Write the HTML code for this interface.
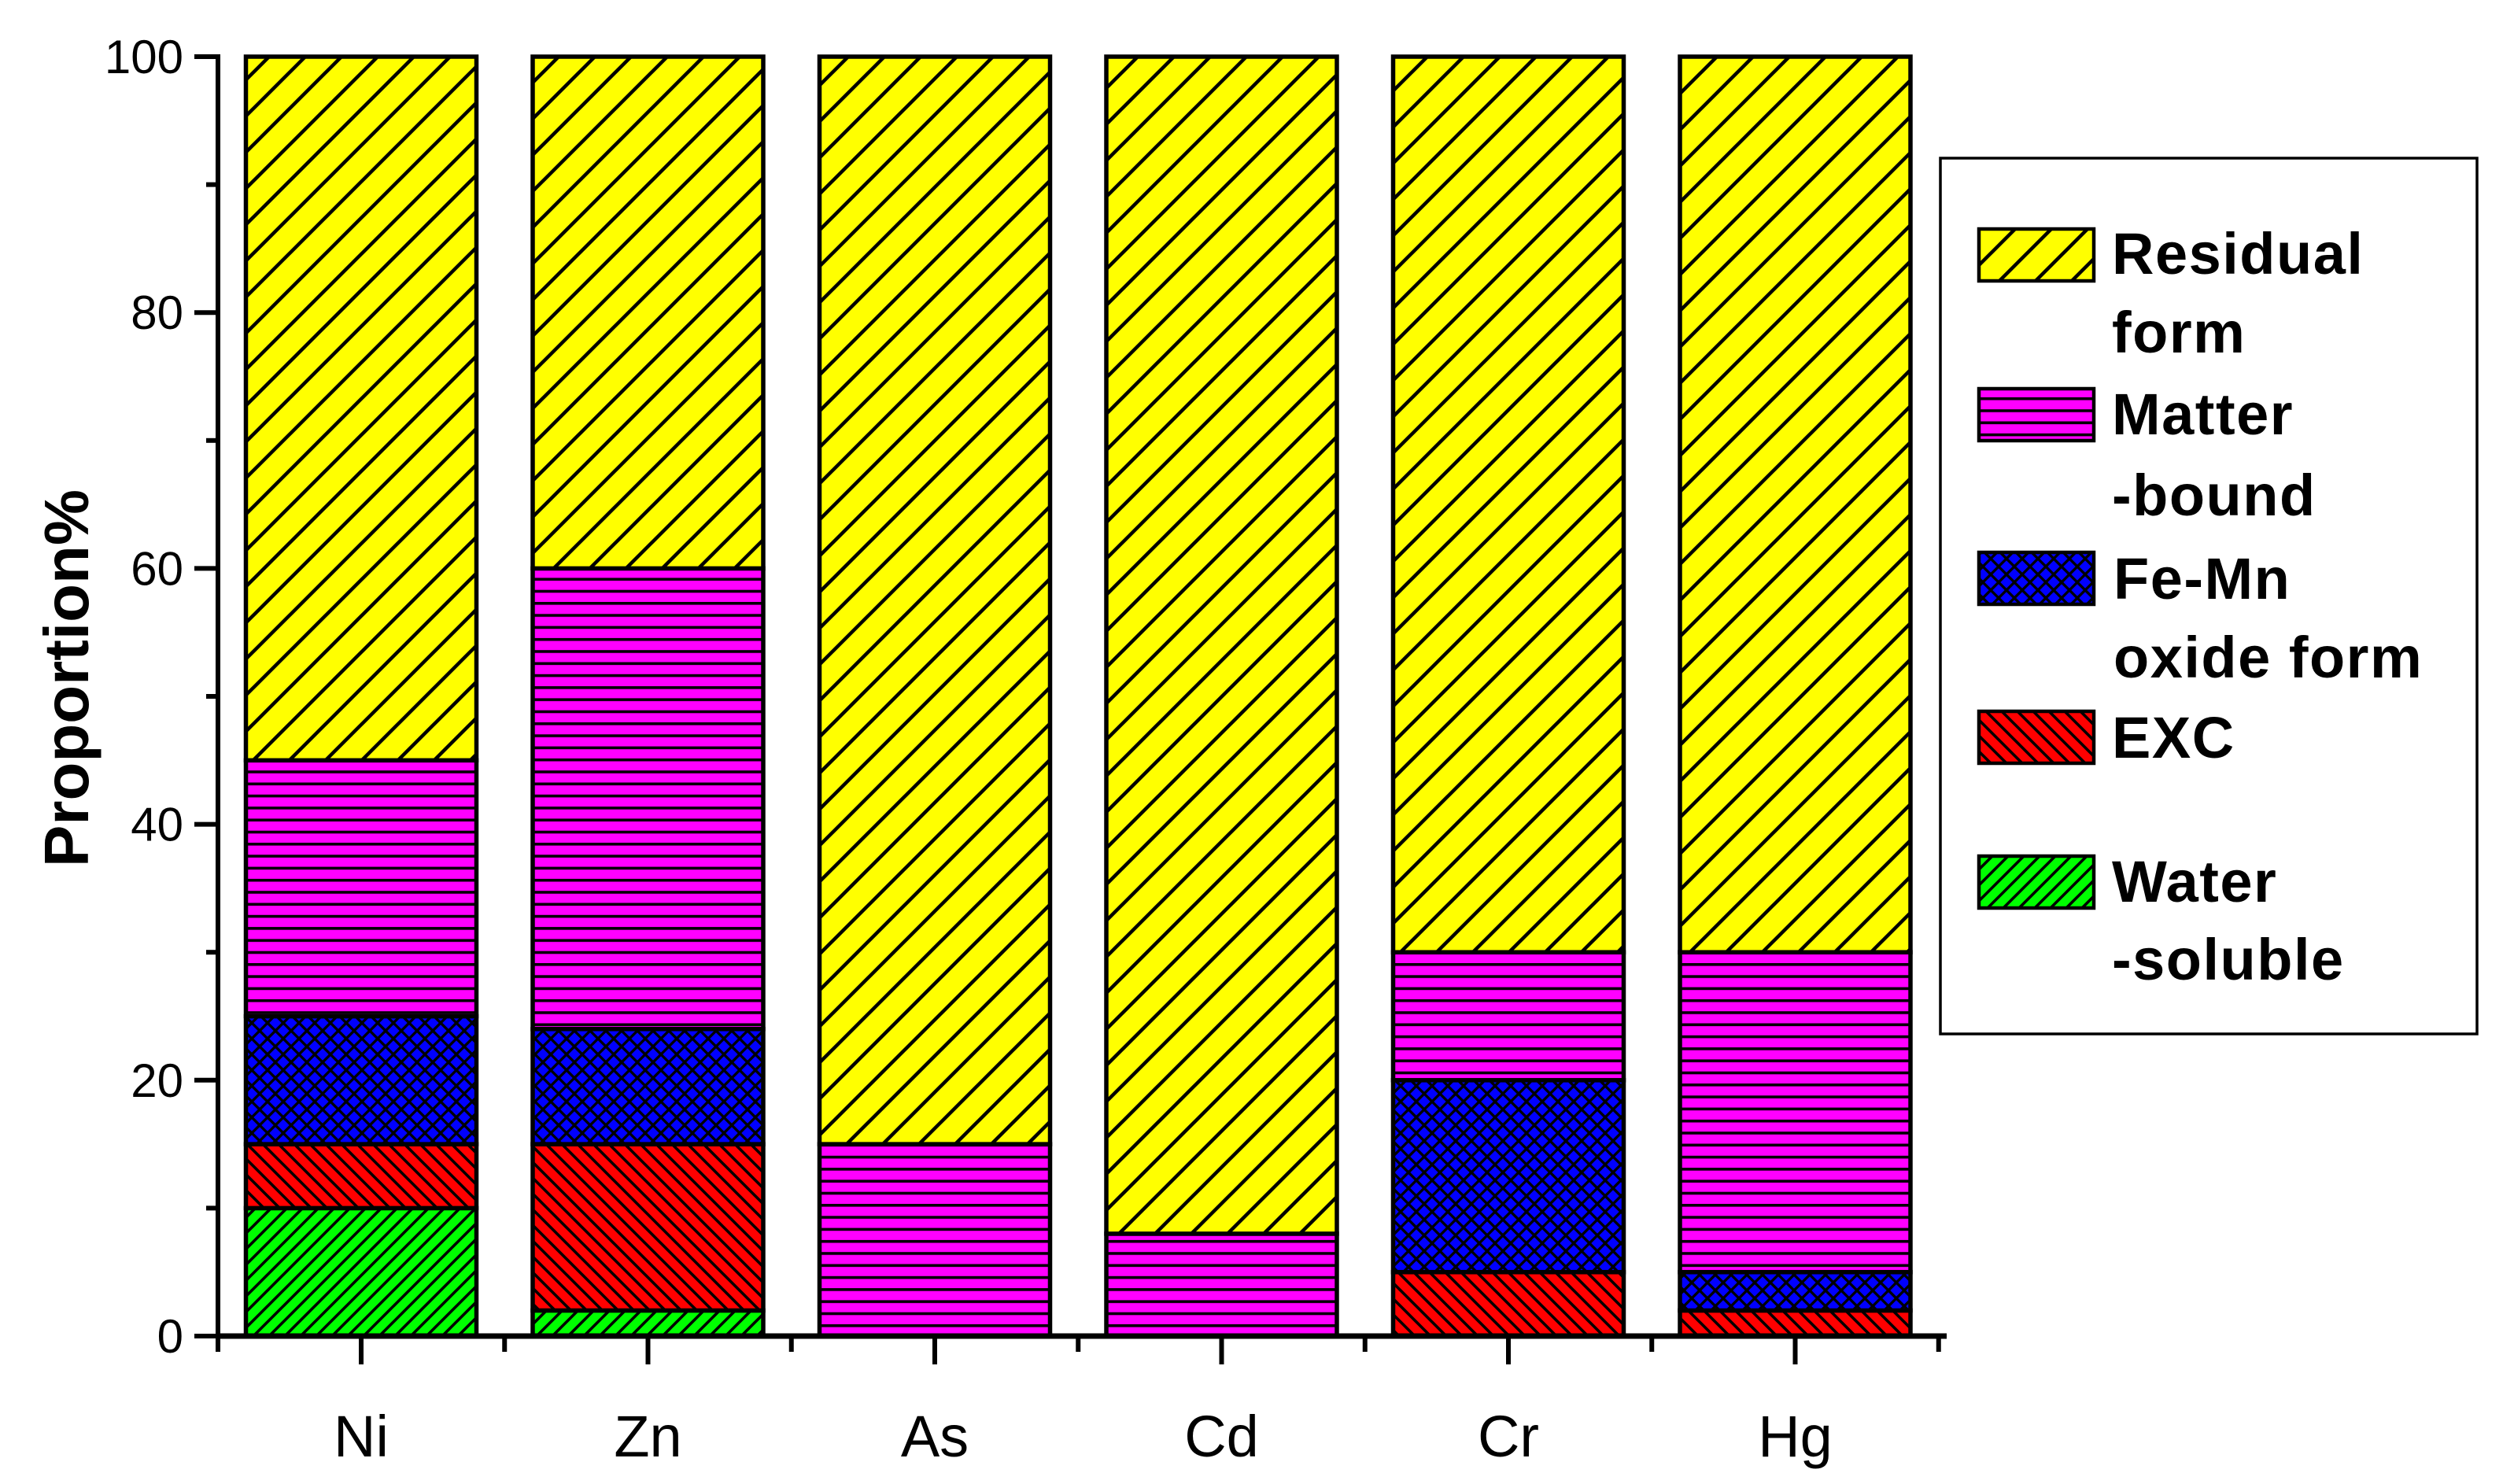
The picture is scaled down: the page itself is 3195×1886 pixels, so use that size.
<!DOCTYPE html>
<html><head><meta charset="utf-8"><style>
html,body{margin:0;padding:0;background:#fff;}
svg{display:block;font-family:"Liberation Sans",Arial,sans-serif;}
</style></head><body>
<svg id="chart" width="3195" height="1886" viewBox="0 0 3195 1886" xmlns="http://www.w3.org/2000/svg">
<defs>
<pattern id="p-res" patternUnits="userSpaceOnUse" width="46" height="46">
<rect width="46" height="46" fill="#ffff00"/>
<path d="M-11,11 L11,-11 M0,46 L46,0 M35,57 L57,35" stroke="#000" stroke-width="4.5"/>
</pattern>
<pattern id="p-mat" patternUnits="userSpaceOnUse" width="20" height="15.3">
<rect width="20" height="15.3" fill="#ff00ff"/>
<rect y="0" width="20" height="3.6" fill="#000"/>
</pattern>
<pattern id="p-fem" patternUnits="userSpaceOnUse" width="20" height="20">
<rect width="20" height="20" fill="#0000ff"/>
<path d="M-5,5 L5,-5 M0,20 L20,0 M15,25 L25,15 M-5,15 L5,25 M0,0 L20,20 M15,-5 L25,5" stroke="#000" stroke-width="3.3"/>
</pattern>
<pattern id="p-exc" patternUnits="userSpaceOnUse" width="20" height="20">
<rect width="20" height="20" fill="#ff0000"/>
<path d="M-5,15 L5,25 M0,0 L20,20 M15,-5 L25,5" stroke="#000" stroke-width="3.6"/>
</pattern>
<pattern id="p-wat" patternUnits="userSpaceOnUse" width="20" height="20">
<rect width="20" height="20" fill="#00ff00"/>
<path d="M-5,5 L5,-5 M0,20 L20,0 M15,25 L25,15" stroke="#000" stroke-width="3.6"/>
</pattern>
</defs>
<g id="bars"></g>
<g id="axes"></g>
<text transform="translate(112,862) rotate(-90)" text-anchor="middle" font-size="80" font-weight="bold">Proportion%</text>
<g font-weight="bold" font-size="74" letter-spacing="1.5">
<rect x="2466" y="201" width="682" height="1113" fill="#fff" stroke="#000" stroke-width="3.5"/>
<g>
<rect x="2515" y="291" width="146" height="66" fill="url(#p-res)" stroke="#000" stroke-width="4.5"/>
<text x="2684" y="348">Residual</text>
<text x="2684" y="448">form</text></g>
<g>
<rect x="2515" y="494" width="146" height="66" fill="url(#p-mat)" stroke="#000" stroke-width="4.5"/>
<text x="2684" y="552">Matter</text>
<text x="2684" y="655">-bound</text></g>
<g>
<rect x="2515" y="702" width="146" height="66" fill="url(#p-fem)" stroke="#000" stroke-width="4.5"/>
<text x="2686" y="761">Fe-Mn</text>
<text x="2686" y="861"> oxide form</text></g>
<g>
<rect x="2515" y="904" width="146" height="66" fill="url(#p-exc)" stroke="#000" stroke-width="4.5"/>
<text x="2684" y="963">EXC</text></g>
<g>
<rect x="2515" y="1088" width="146" height="66" fill="url(#p-wat)" stroke="#000" stroke-width="4.5"/>
<text x="2684" y="1146">Water</text>
<text x="2684" y="1245">-soluble</text></g>
</g>
</svg>
<script>
const categories = ["Ni","Zn","As","Cd","Cr","Hg"];
const waterSoluble = [10, 2, 0, 0, 0, 0];
const excForm = [5, 13, 0, 0, 5, 2];
const feMnOxide = [10, 9, 0, 0, 15, 3];
const matterBound = [20, 36, 15, 8, 10, 25];
const residualForm = [55, 40, 85, 92, 70, 70];
const yTicks = [0, 20, 40, 60, 80, 100];

const NS = "http://www.w3.org/2000/svg";
const y0 = 1698, y100 = 72, axisX = 277, axisEnd = 2474;
const firstCenter = 459, pitch = 364.5, barW = 293;
function yScale(v){ return y0 - (y0 - y100) * v / 100; }
function xScale(i){ return firstCenter + i * pitch; }
function mk(tag, attrs, parent){ const e=document.createElementNS(NS,tag); for(const k in attrs) e.setAttribute(k,attrs[k]); parent.appendChild(e); return e; }

const series = [
  {name:"water", vals:waterSoluble, fill:"url(#p-wat)"},
  {name:"exc", vals:excForm, fill:"url(#p-exc)"},
  {name:"femn", vals:feMnOxide, fill:"url(#p-fem)"},
  {name:"matter", vals:matterBound, fill:"url(#p-mat)"},
  {name:"residual", vals:residualForm, fill:"url(#p-res)"}
];
const bars = document.getElementById('bars');
categories.forEach((c,i)=>{
  let cum = 0;
  series.forEach(s=>{
    const v = s.vals[i];
    if (v <= 0) return;
    const top = yScale(cum + v), bot = yScale(cum);
    const r = mk('rect',{x:xScale(i)-barW/2, y:top, width:barW, height:bot-top, fill:s.fill, stroke:'#000', 'stroke-width':5.5}, bars);
    
    
    cum += v;
  });
});

const axes = document.getElementById('axes');
const yl = mk('line',{x1:axisX,y1:y100-3,x2:axisX,y2:y0+3,stroke:'#000','stroke-width':6},axes);


const xl = mk('line',{x1:axisX-2,y1:y0,x2:axisEnd,y2:y0,stroke:'#000','stroke-width':7},axes);


yTicks.forEach(t=>{
  const y = yScale(t);
  mk('line',{x1:axisX-30,y1:y,x2:axisX,y2:y,stroke:'#000','stroke-width':6},axes);
  const lab = mk('text',{x:233,y:y+21,'text-anchor':'end','font-size':60},axes);
  lab.textContent = t;
  
  
});
for (let k=0;k<yTicks.length-1;k++){
  const y = yScale((yTicks[k]+yTicks[k+1])/2);
  mk('line',{x1:axisX-15,y1:y,x2:axisX,y2:y,stroke:'#000','stroke-width':6},axes);
}
categories.forEach((c,i)=>{
  const x = xScale(i);
  mk('line',{x1:x,y1:y0,x2:x,y2:y0+36,stroke:'#000','stroke-width':6},axes);
  mk('line',{x1:x+pitch/2,y1:y0,x2:x+pitch/2,y2:y0+20,stroke:'#000','stroke-width':6},axes);
  const lab = mk('text',{x:x,y:1851,'text-anchor':'middle','font-size':74},axes);
  lab.textContent = c;
  
  
});
mk('line',{x1:axisX,y1:y0,x2:axisX,y2:y0+20,stroke:'#000','stroke-width':6},axes);
</script>
</body></html>
